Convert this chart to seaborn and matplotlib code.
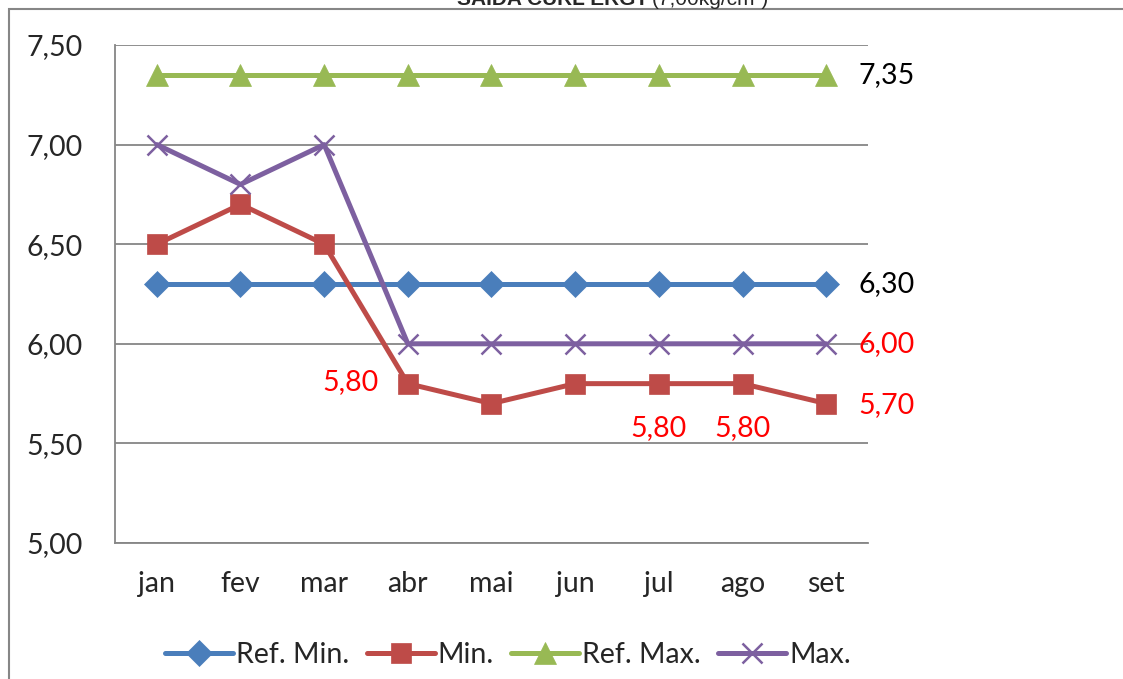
import numpy as np
import pandas as pd
import matplotlib.pyplot as plt
import matplotlib.patches as mpatches
from matplotlib.ticker import FixedLocator
import seaborn as sns

months = ["jan", "fev", "mar", "abr", "mai", "jun", "jul", "ago", "set"]
ref_min = [6.30, 6.30, 6.30, 6.30, 6.30, 6.30, 6.30, 6.30, 6.30]
val_min = [6.50, 6.70, 6.50, 5.80, 5.70, 5.80, 5.80, 5.80, 5.70]
ref_max = [7.35, 7.35, 7.35, 7.35, 7.35, 7.35, 7.35, 7.35, 7.35]
val_max = [7.00, 6.80, 7.00, 6.00, 6.00, 6.00, 6.00, 6.00, 6.00]
y_ticks = [5.00, 5.50, 6.00, 6.50, 7.00, 7.50]

sns.set_style("white")
plt.rcParams["font.family"] = ["Lato", "DejaVu Sans"]

fig = plt.figure(figsize=(11.23, 6.79), dpi=100)
ax = fig.add_axes([115 / 1123, 1 - 543 / 679, 753 / 1123, 498 / 679])

series = [
    ("Ref. Min.", ref_min, "#4A7EBB", "D", 13, "#4A7EBB"),
    ("Min.", val_min, "#BE4B48", "s", 15, "#BE4B48"),
    ("Ref. Max.", ref_max, "#98B954", "^", 16, "#98B954"),
    ("Max.", val_max, "#7D60A0", "x", 15, "#7D60A0"),
]
for name, vals, col, mk, ms, ec in series:
    sns.lineplot(x=months, y=vals, ax=ax, color=col, lw=3.6, marker=mk,
                 markersize=ms, markeredgecolor=ec, markeredgewidth=1.8 if mk == "x" else 0.5,
                 label=name, sort=False)

ax.set_xlim(-0.5, 8.5)
ax.set_ylim(5.0, 7.5)
ax.set_yticks(y_ticks)
ax.set_yticklabels([f"{v:.2f}".replace(".", ",") for v in y_ticks], fontsize=20.5)
ax.set_xticks(range(len(months)))
ax.set_xticklabels(months, fontsize=20.5)
ax.xaxis.set_minor_locator(FixedLocator(np.arange(-0.5, 9, 1)))
ax.tick_params(axis="x", which="major", length=0, pad=20)
ax.tick_params(axis="x", which="minor", length=7, width=1.3, color="#868686", direction="out")
ax.tick_params(axis="y", length=8, width=1.3, color="#868686", direction="out", pad=15)
ax.grid(axis="y", color="#868686", lw=1.3)
ax.set_axisbelow(True)
for s in ["top", "right"]:
    ax.spines[s].set_visible(False)
for s in ["left", "bottom"]:
    ax.spines[s].set_color("#868686")
    ax.spines[s].set_linewidth(1.3)
ax.set_xlabel("")
ax.set_ylabel("")

# data labels
def lab(i, vals, txt_col, dx, dy, ha="left"):
    ax.annotate(f"{vals[i]:.2f}".replace(".", ","), (i, vals[i]), xytext=(dx, dy),
                textcoords="offset points", ha=ha, va="center", fontsize=20.5, color=txt_col)

lab(8, ref_max, "black", 23, 0)
lab(8, ref_min, "black", 23, 0)
lab(8, val_max, "red", 23, 0)
lab(8, val_min, "red", 23, -1)
lab(3, val_min, "red", -21, 1, ha="right")
lab(6, val_min, "red", 0, -32, ha="center")
lab(7, val_min, "red", 0, -32, ha="center")

ax.legend(loc="center", bbox_to_anchor=(508 / 1123, 1 - 655 / 679), bbox_transform=fig.transFigure,
          ncol=4, frameon=False, fontsize=20.5, handlelength=2.4, handletextpad=0.1,
          columnspacing=0.6)

# outer chart frame
fig.add_artist(mpatches.Rectangle((9 / 1123, -0.1), 2, 1.1 - 9 / 679, transform=fig.transFigure,
                                  fill=False, edgecolor="#868686", lw=1.5, clip_on=False))

# title (cut at the top, as in the source)
fig.text(648 / 1123, 1 - 5 / 679, "SAIDA CURL ERGT", ha="right", va="baseline",
         fontsize=15, fontweight="bold", family=["Liberation Sans", "DejaVu Sans"])
fig.text(652 / 1123, 1 - 5 / 679, "(7,00kg/cm²)", ha="left", va="baseline",
         fontsize=15, family=["Liberation Sans", "DejaVu Sans"])

fig.savefig("out.png", dpi=100)
